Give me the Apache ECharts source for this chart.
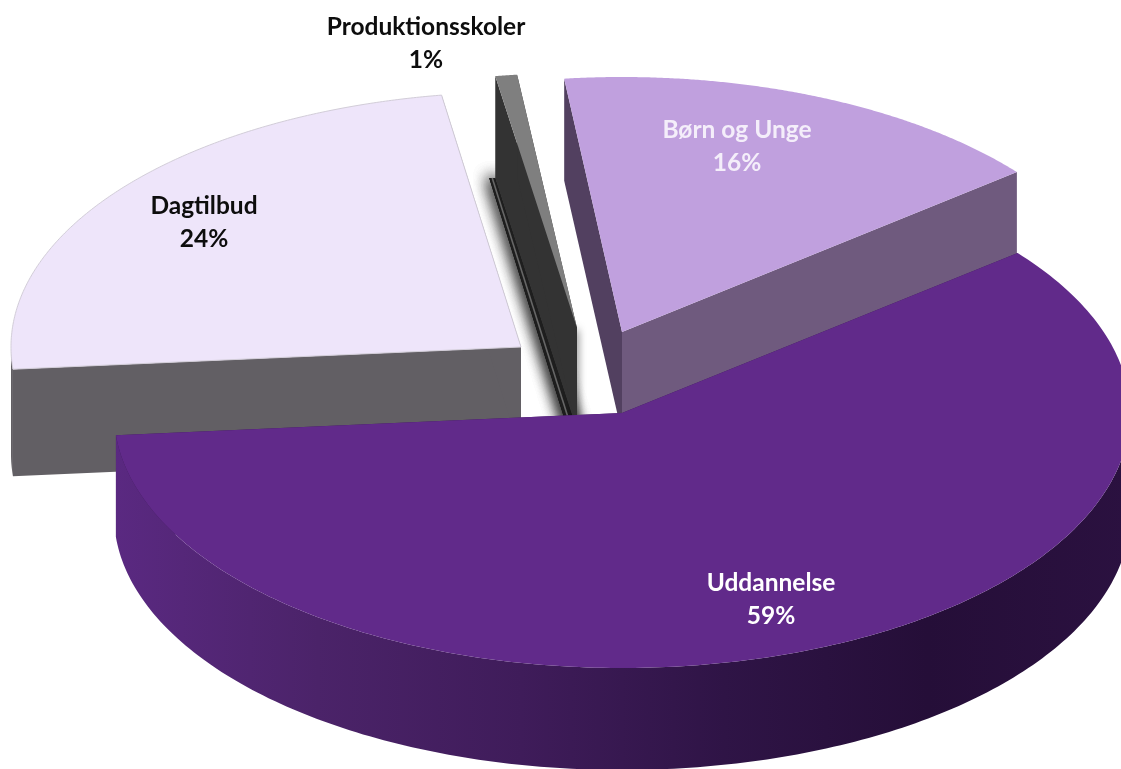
<!DOCTYPE html>
<html>
<head>
<meta charset="utf-8">
<style>html,body{margin:0;padding:0;background:#fff}#c{width:1121px;height:769px}</style>
<script src="https://cdn.jsdelivr.net/npm/echarts@6/dist/echarts.min.js"></script>
</head>
<body>
<div id="c"></div>
<script>
// DATA (shares; they round to the printed percentages)
var categories = ['Dagtilbud', 'Produktionsskoler', 'Børn og Unge', 'Uddannelse'];
var shareValues = [23.9, 0.67, 16.03, 59.4];

// STYLE / LAYOUT
var startAngle = 185, RY = 255;
var sliceRadiusX = [510, 525, 507, 508];
var sliceCenters = [[521, 347], [577, 328], [622, 332], [622, 413]];
var sliceDepths = [107, 102, 102, 102];
var topColors = ['#EEE5FA', '#7F7F7F', '#C0A0DE', '#612A8A'];
var topStroke = ['#D2CDD8', 'none', 'none', 'none'];
var startWall = ['#625F64', '#333333', '#524060', '#3A1A53'];
var endWall = ['#625F64', '#333333', '#6F5A7E', '#3A1A53'];
var labelPositions = [[204, 223], [426, 44], [737, 147], [771, 600]];
var labelColors = ['#0D0D0D', '#0D0D0D', '#F4EEFA', '#FFFFFF'];
var purpleWall = { type: 'linear', x: 115, y: 0, x2: 1130, y2: 0, global: true, colorStops: [
  { offset: 0, color: '#5A2981' }, { offset: 0.2, color: '#4B2369' },
  { offset: 0.4, color: '#3F1C5A' }, { offset: 0.6, color: '#2F1446' },
  { offset: 0.8, color: '#250E38' }, { offset: 1, color: '#2B1140' }] };
var outerWall = ['#625F64', '#333333', '#6F5A7E', purpleWall];
var THIN_INDEX = 1;

var total = shareValues.reduce(function (a, b) { return a + b; }, 0);

function renderSlice(params, api) {
  var i = params.dataIndex, before = 0;
  for (var k = 0; k < i; k++) before += shareValues[k];
  var v = api.value(0);
  var a0 = startAngle - before / total * 360;      // clockwise
  var a1 = a0 - v / total * 360;
  var c = sliceCenters[i], d = sliceDepths[i], RX = sliceRadiusX[i];
  function pt(deg, dz) {
    var r = deg * Math.PI / 180;
    return [c[0] + RX * Math.cos(r), c[1] - RY * Math.sin(r) + (dz || 0)];
  }
  var apex = [c[0], c[1]], apexLow = [c[0], c[1] + d];
  var children = [];

  // contact shadow beside the thin slice
  if (i === THIN_INDEX) {
    var pa = pt(a0, d), pb = apexLow;
    for (var n = 0; n < 3; n++) {
      children.push({ type: 'polygon', shape: { points: [pa, pb, [pb[0] - 9, pb[1]], [pa[0] - 6, pa[1]]] },
        style: { fill: '#1E1E1E', shadowBlur: 16, shadowColor: 'rgba(0,0,0,0.9)' } });
    }
    children.push({ type: 'polygon', shape: { points: [[c[0], c[1] + 2], [c[0], c[1] + d], [c[0] - 4, c[1] + d], [c[0] - 4, c[1] + 2]] },
      style: { fill: '#333333', shadowBlur: 8, shadowColor: 'rgba(0,0,0,0.8)' } });
  }
  children.push({ type: 'polygon', shape: { points: [apex, pt(a0), pt(a0, d), apexLow] }, style: { fill: startWall[i] } });
  children.push({ type: 'polygon', shape: { points: [apex, pt(a1), pt(a1, d), apexLow] }, style: { fill: endWall[i] } });
  if (i === THIN_INDEX) {
    var pc = pt(a0, d), pe = apexLow;
    children.push({ type: 'line', shape: { x1: pc[0] - 3, y1: pc[1], x2: pe[0] - 5, y2: pe[1] }, style: { stroke: '#666666', lineWidth: 1.6 } });
  }

  // outer rim wall: only the part facing the viewer
  var rimTop = [], rimLow = [];
  for (var s = 0; s <= 240; s++) {
    var deg = a0 + (a1 - a0) * s / 240;
    if (Math.sin(deg * Math.PI / 180) < 0) { rimTop.push(pt(deg)); rimLow.push(pt(deg, d)); }
  }
  if (rimTop.length > 1) {
    children.push({ type: 'polygon', shape: { points: rimTop.concat(rimLow.reverse()) }, style: { fill: outerWall[i] } });
  }

  // top face
  var face = [apex];
  for (var t = 0; t <= 240; t++) face.push(pt(a0 + (a1 - a0) * t / 240));
  children.push({ type: 'polygon', shape: { points: face },
    style: { fill: topColors[i], stroke: topStroke[i], lineWidth: topStroke[i] === 'none' ? 0 : 1 } });

  return { type: 'group', children: children };
}

function renderLabel(params, api) {
  var i = params.dataIndex, lp = labelPositions[i];
  return { type: 'text', z2: 100, style: {
    x: lp[0], y: lp[1], text: categories[i] + '\n' + Math.round(api.value(0)) + '%',
    align: 'center', verticalAlign: 'middle',
    font: 'bold 24.5px Lato, Carlito, sans-serif', lineHeight: 33, fill: labelColors[i] } };
}

var chart = echarts.init(document.getElementById('c'), null, { renderer: 'canvas' });
var seriesData = shareValues.map(function (v, i) { return { name: categories[i], value: [v] }; });
chart.setOption({
  backgroundColor: '#ffffff',
  animation: false,
  tooltip: { show: false },
  series: [
    { type: 'custom', coordinateSystem: 'none', silent: true, clip: false, renderItem: renderSlice, data: seriesData, z: 1 },
    { type: 'custom', coordinateSystem: 'none', silent: true, renderItem: renderLabel, data: seriesData, z: 2 }
  ]
});
</script>
</body>
</html>
